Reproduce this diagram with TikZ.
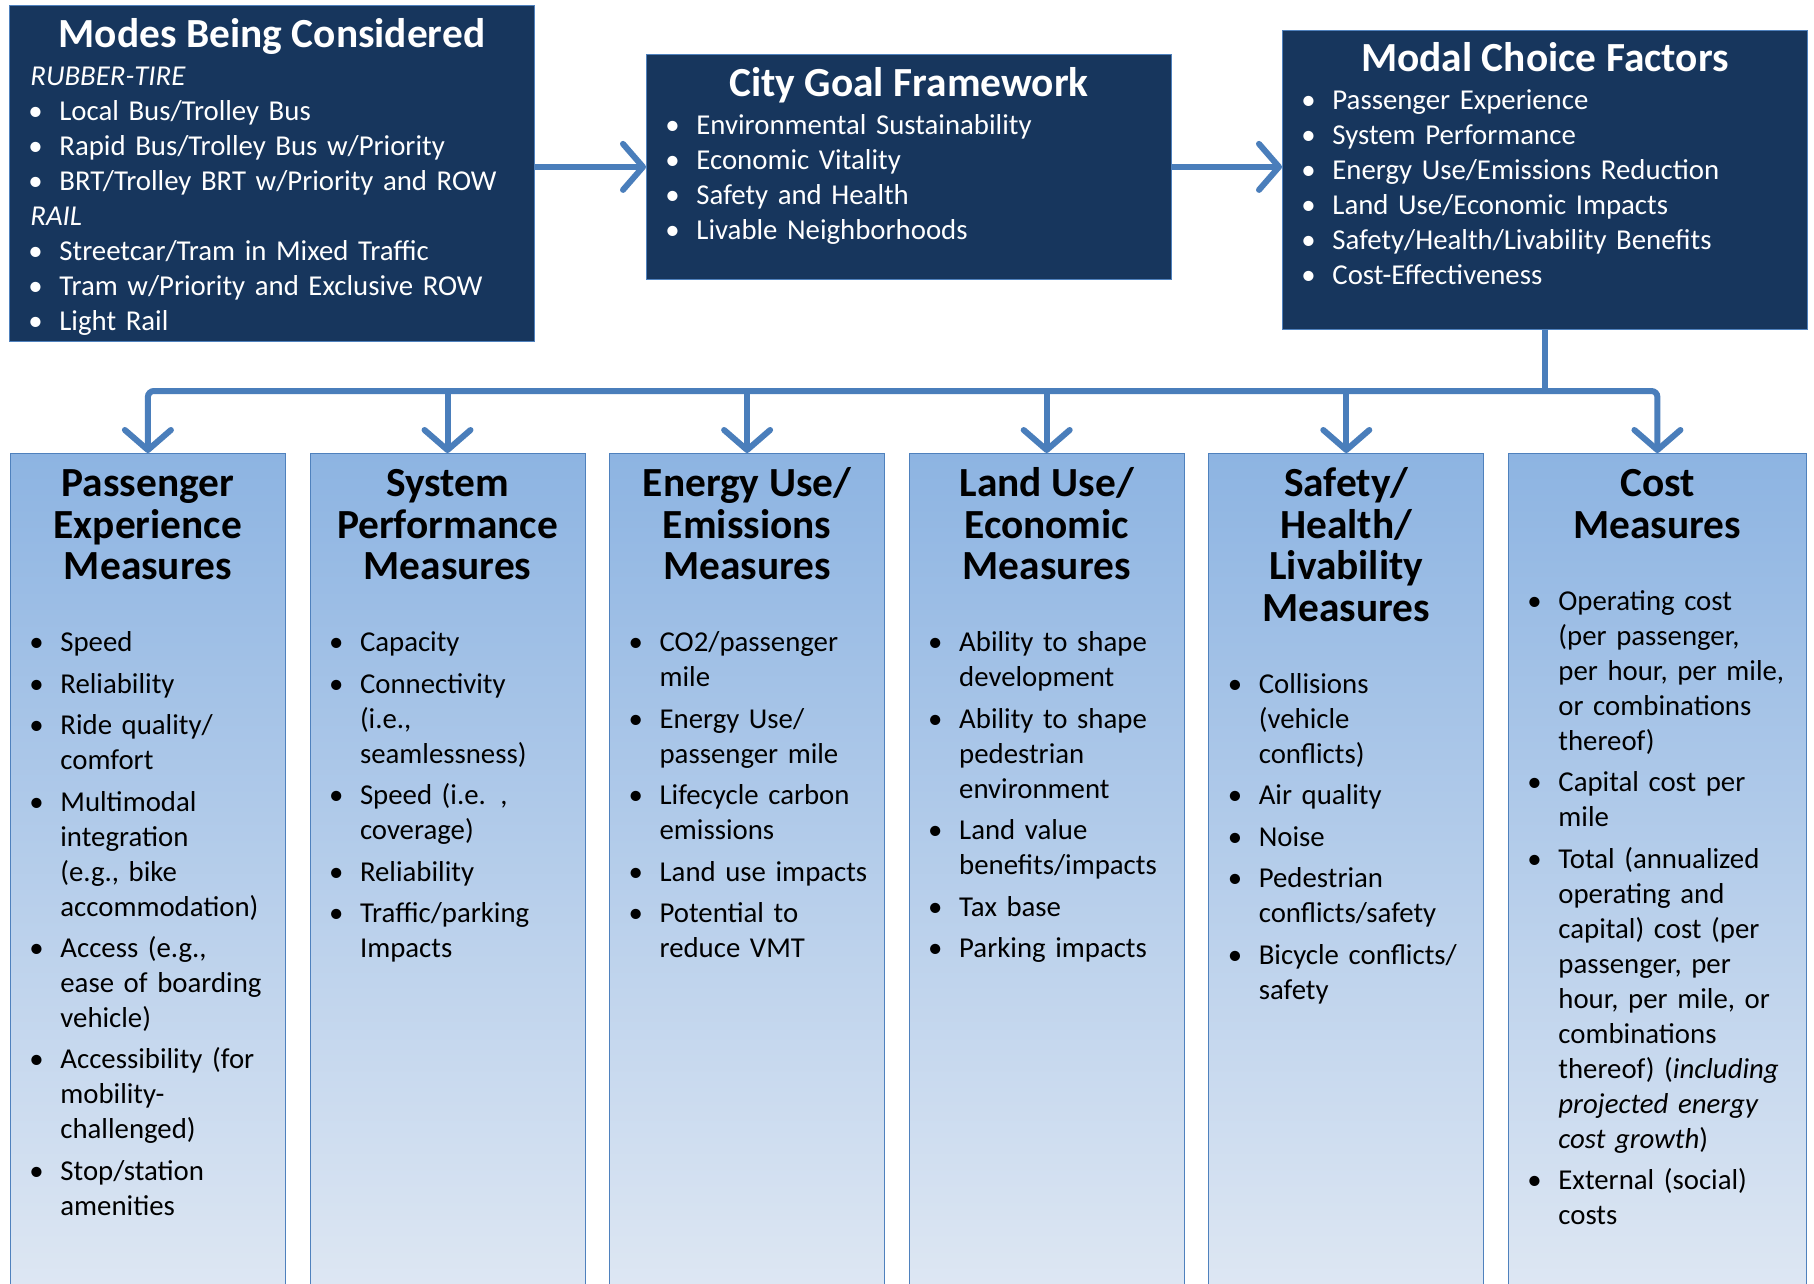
\documentclass[tikz,border=0pt]{standalone}
\usepackage{fontspec}
\setmainfont{Carlito}
\usetikzlibrary{arrows.meta, positioning}

\definecolor{navy}{RGB}{23,54,93}
\definecolor{edgeblue}{RGB}{79,129,189}
\definecolor{arrowblue}{RGB}{74,126,187}
\definecolor{coltop}{RGB}{141,180,226}
\definecolor{colbottom}{RGB}{222,231,243}

\newenvironment{bullets}[1][0pt]{%
  \begin{list}{\textbullet}{%
    \setlength{\leftmargin}{14.5pt}\setlength{\labelsep}{7.5pt}%
    \setlength{\labelwidth}{7pt}\setlength{\itemsep}{#1}%
    \setlength{\parsep}{0pt}\setlength{\topsep}{0pt}%
    \setlength{\partopsep}{0pt}\setlength{\rightmargin}{-10pt}%
    \def\makelabel##1{\hspace{-1pt}##1\hfil}}}%
  {\end{list}}
\newcommand{\boxtitle}[1]{{\centering\fontsize{20.7pt}{22pt}\selectfont\bfseries\rule{0pt}{16pt}#1\par}\vspace{1.5pt}}
\newcommand{\coltitle}[1]{{\centering\fontsize{20.7pt}{20.8pt}\selectfont\bfseries\rule{0pt}{16pt}#1\par}\vspace{18.5pt}}

\begin{document}
\begin{tikzpicture}[
	x=0.5pt, y=-0.5pt,
	topbox/.style = {draw=edgeblue, fill=navy, anchor=north west, minimum width=262.5pt, inner sep=0pt},
	colbox/.style = {draw=edgeblue, top color=coltop, bottom color=colbottom, anchor=north west,
		minimum width=137.5pt, minimum height=420pt, inner sep=0pt},
	toptext/.style = {anchor=north, text=white, text width=241.5pt, align=left, inner sep=0pt,
		font=\fontsize{14.4pt}{17.5pt}\selectfont},
	coltext/.style = {anchor=north, text=black, text width=116.5pt, align=left, inner sep=0pt,
		font=\fontsize{14.4pt}{17.5pt}\selectfont},
	link/.style = {draw=arrowblue, line width=3pt},
	arrow/.style = {link, -{Straight Barb[length=10pt, width=23pt, round]}},
	arrows both/.style = {link, {Straight Barb[length=10pt, width=23pt, round]}-{Straight Barb[length=10pt, width=23pt, round]}},
	node distance = 11.9pt
]

\useasboundingbox[fill=white] (0,0) rectangle (1814,1284);
\clip (0,0) rectangle (1814,1284);

% top row
\node[topbox, minimum height=168pt] (modes) at (9,5) {};
\node[topbox, minimum height=112.5pt] (goals) at (646,54) {};
\node[topbox, minimum height=149.5pt] (factors) at (1282,30) {};

\node[toptext] (modes text) at ([yshift=-4.9pt]modes.north) {%
	\boxtitle{Modes Being Considered}
	\textit{RUBBER-TIRE}\par
	\begin{bullets}
	\item Local Bus/Trolley Bus
	\item Rapid Bus/Trolley Bus w/Priority
	\item BRT/Trolley BRT w/Priority and ROW
	\end{bullets}
	\textit{RAIL}\par
	\begin{bullets}
	\item Streetcar/Tram in Mixed Traffic
	\item Tram w/Priority and Exclusive ROW
	\item Light Rail
	\end{bullets}};

\node[toptext] (goals text) at ([yshift=-5.2pt]goals.north) {%
	\boxtitle{City Goal Framework}
	\begin{bullets}
	\item Environmental Sustainability
	\item Economic Vitality
	\item Safety and Health
	\item Livable Neighborhoods
	\end{bullets}};

\node[toptext] (factors text) at ([yshift=-4.7pt]factors.north) {%
	\boxtitle{Modal Choice Factors}
	\begin{bullets}
	\item Passenger Experience
	\item System Performance
	\item Energy Use/Emissions Reduction
	\item Land Use/Economic Impacts
	\item Safety/Health/Livability Benefits
	\item Cost-Effectiveness
	\end{bullets}};

\draw[arrow] (modes.east |- goals.west) -- (goals.west);
\draw[arrow] (goals.east) -- (factors.west |- goals.east);

% measure columns
\node[colbox] (pass) at (10,453) {};
\node[colbox, right=of pass] (sys) {};
\node[colbox, right=of sys] (energy) {};
\node[colbox, right=of energy] (land) {};
\node[colbox, right=of land] (safety) {};
\node[colbox, right=of safety, minimum width=149pt] (cost) {};

\node[coltext] (pass text) at ([yshift=-5.6pt]pass.north) {%
	\coltitle{Passenger\\ Experience\\ Measures}
	\begin{bullets}[3.2pt]
	\item Speed
	\item Reliability
	\item Ride quality/\\ comfort
	\item Multimodal\\ integration\\ (e.g., bike\\ accommodation)
	\item Access (e.g.,\\ ease of boarding\\ vehicle)
	\item Accessibility (for\\ mobility-\\ challenged)
	\item Stop/station\\ amenities
	\end{bullets}};

\node[coltext] (sys text) at ([yshift=-5.6pt]sys.north) {%
	\coltitle{System\\ Performance\\ Measures}
	\begin{bullets}[3.2pt]
	\item Capacity
	\item Connectivity\\ (i.e.,\\ seamlessness)
	\item Speed (i.e. ,\\ coverage)
	\item Reliability
	\item Traffic/parking\\ Impacts
	\end{bullets}};

\node[coltext] (energy text) at ([yshift=-5.6pt]energy.north) {%
	\coltitle{Energy Use/\\ Emissions\\ Measures}
	\begin{bullets}[3.2pt]
	\item CO2/passenger\\ mile
	\item Energy Use/\\ passenger mile
	\item Lifecycle carbon\\ emissions
	\item Land use impacts
	\item Potential to\\ reduce VMT
	\end{bullets}};

\node[coltext] (land text) at ([yshift=-5.6pt]land.north) {%
	\coltitle{Land Use/\\ Economic\\ Measures}
	\begin{bullets}[3.2pt]
	\item Ability to shape\\ development
	\item Ability to shape\\ pedestrian\\ environment
	\item Land value\\ benefits/impacts
	\item Tax base
	\item Parking impacts
	\end{bullets}};

\node[coltext] (safety text) at ([yshift=-5.6pt]safety.north) {%
	\coltitle{Safety/\\ Health/\\ Livability\\ Measures}
	\begin{bullets}[3.2pt]
	\item Collisions\\ (vehicle\\ conflicts)
	\item Air quality
	\item Noise
	\item Pedestrian\\ conflicts/safety
	\item Bicycle conflicts/\\ safety
	\end{bullets}};

\node[coltext, text width=128pt] (cost text) at ([yshift=-5.6pt]cost.north) {%
	\coltitle{Cost\\ Measures}
	\begin{bullets}[3.2pt]
	\item Operating cost\\ (per passenger,\\ per hour, per mile,\\ or combinations\\ thereof)
	\item Capital cost per\\ mile
	\item Total (annualized\\ operating and\\ capital) cost (per\\ passenger, per\\ hour, per mile, or\\ combinations\\ thereof) (\textit{including\\ projected energy\\ cost growth})
	\item External (social)\\ costs
	\end{bullets}};

% connectors to the columns
\coordinate (bar) at (factors.south |- 0,391);
\draw[link] (factors.south) -- (bar);
\draw[arrows both, rounded corners=3pt] (pass.north) |- (bar) -| (cost.north);
\foreach \c in {sys, energy, land, safety}
	\draw[arrow] (\c.north |- bar) -- (\c.north);

\end{tikzpicture}
\end{document}
